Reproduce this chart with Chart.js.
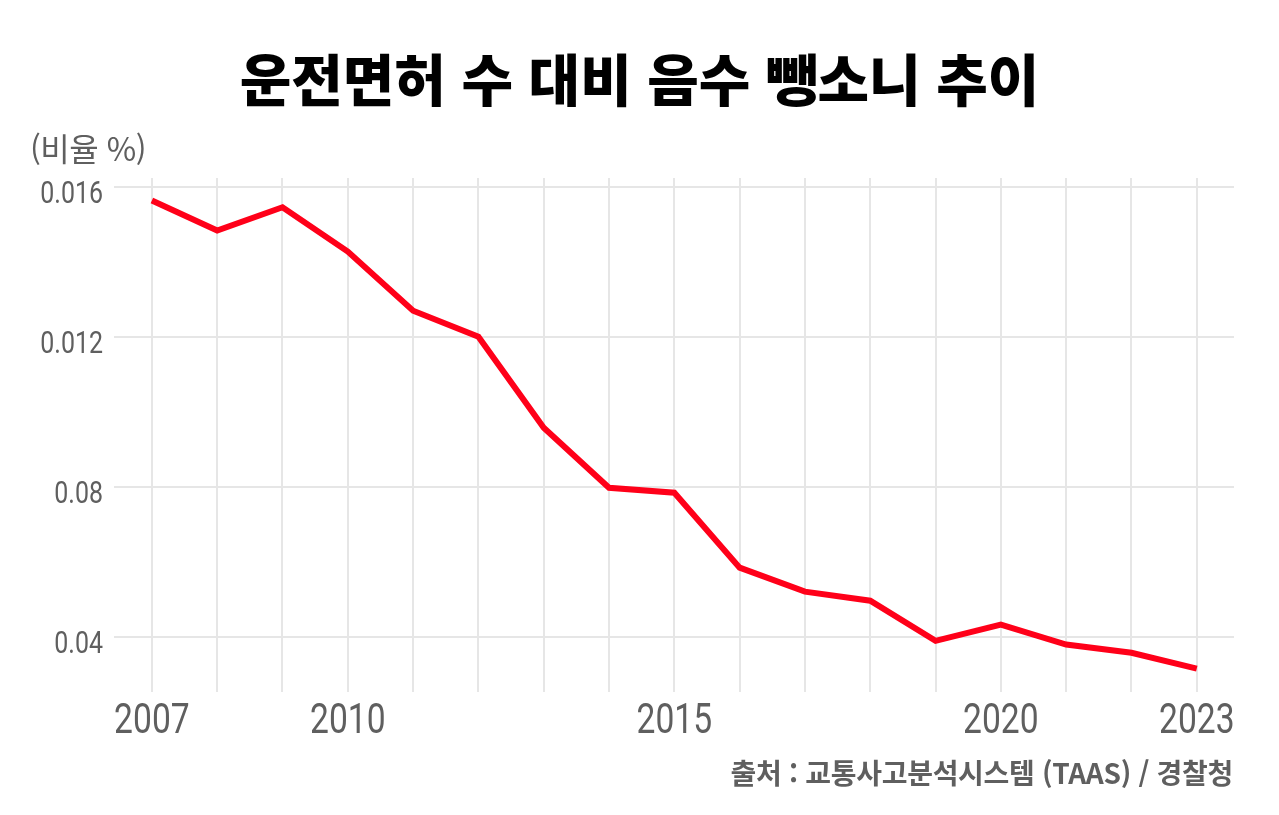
<!DOCTYPE html>
<html lang="ko">
<head>
<meta charset="utf-8">
<script src="https://cdn.jsdelivr.net/npm/chart.js@4"></script>
<style>
  body { margin: 0; background: #fff; }
  #wrap { position: relative; width: 1279px; height: 815px; }
  #title {
    position: absolute; left: 0; width: 1279px; top: 36px; text-align: center;
    font: 900 56px "Noto Sans CJK KR", sans-serif; color: #000;
  }
  #unit {
    position: absolute; left: 30px; top: 124px;
    font: 32px "Noto Sans CJK KR", sans-serif; color: #5f5f5f; letter-spacing: -0.5px;
  }
  #source {
    position: absolute; right: 46px; top: 752px;
    font: bold 28px "Noto Sans CJK KR", sans-serif; color: #5f5f5f; letter-spacing: -0.3px;
  }
</style>
</head>
<body>
<div id="wrap">
  <canvas id="chart" width="1279" height="815"></canvas>
  <div id="title">운전면허 수 대비 음수 뺑소니 추이</div>
  <div id="unit">(비율 %)</div>
  <div id="source">출처 : 교통사고분석시스템 (TAAS) / 경찰청</div>
</div>
<script>
// data
const years = [2007, 2008, 2009, 2010, 2011, 2012, 2013, 2014, 2015, 2016, 2017, 2018, 2019, 2020, 2021, 2022, 2023];
const ratio = [0.01563, 0.01483, 0.01545, 0.01427, 0.01269, 0.0120, 0.00957, 0.00797, 0.00784, 0.00584, 0.0052, 0.00496, 0.00389, 0.00432, 0.00379, 0.00357, 0.00315];
const yTickValues = [0.004, 0.008, 0.012, 0.016];
const yTickLabels = ['0.04', '0.08', '0.012', '0.016']; // as printed in the original
const xLabelYears = [2007, 2010, 2015, 2020, 2023];

const gridColor = '#e6e6e6';
const labelColor = '#5f5f5f';

// the original uses a condensed face; squeeze Roboto horizontally instead
const condensedTicks = {
  id: 'condensedTicks',
  afterDraw(chart) {
    const { ctx, chartArea, scales: { x, y } } = chart;
    ctx.save();
    ctx.fillStyle = labelColor;
    ctx.textBaseline = 'alphabetic';

    ctx.font = '42px Roboto';
    ctx.textAlign = 'center';
    xLabelYears.forEach(v => {
      ctx.save();
      ctx.translate(x.getPixelForValue(v), chartArea.bottom + 41);
      ctx.scale(0.8, 1);
      ctx.fillText(String(v), 0, 0);
      ctx.restore();
    });

    ctx.font = '32px Roboto';
    ctx.textAlign = 'right';
    yTickValues.forEach((v, i) => {
      ctx.save();
      ctx.translate(chartArea.left - 11, y.getPixelForValue(v) + 16);
      ctx.scale(0.78, 1);
      ctx.fillText(yTickLabels[i], 0, 0);
      ctx.restore();
    });
    ctx.restore();
  }
};

const ctx = document.getElementById('chart').getContext('2d');
new Chart(ctx, {
  type: 'line',
  data: {
    datasets: [{
      data: years.map((y, i) => ({ x: y, y: ratio[i] })),
      borderColor: '#ff0019',
      borderWidth: 6,
      pointRadius: 0,
      tension: 0,
      fill: false
    }]
  },
  options: {
    responsive: false,
    animation: false,
    layout: { padding: { top: 178, right: 45, bottom: 0, left: 0 } },
    plugins: { legend: { display: false }, tooltip: { enabled: false } },
    scales: {
      x: {
        type: 'linear',
        min: 2006.42,
        max: 2023.57,
        afterBuildTicks: (s) => { s.ticks = years.map(v => ({ value: v })); },
        afterFit: (s) => { s.height = 123; },
        border: { display: false },
        grid: { color: gridColor, lineWidth: 2, drawTicks: false },
        ticks: { display: false }
      },
      y: {
        min: 0.002525,
        max: 0.01623,
        afterBuildTicks: (s) => { s.ticks = yTickValues.map(v => ({ value: v })); },
        afterFit: (s) => { s.width = 114; },
        border: { display: false },
        grid: { color: gridColor, lineWidth: 2, drawTicks: false },
        ticks: { display: false }
      }
    }
  },
  plugins: [condensedTicks]
});
</script>
</body>
</html>
